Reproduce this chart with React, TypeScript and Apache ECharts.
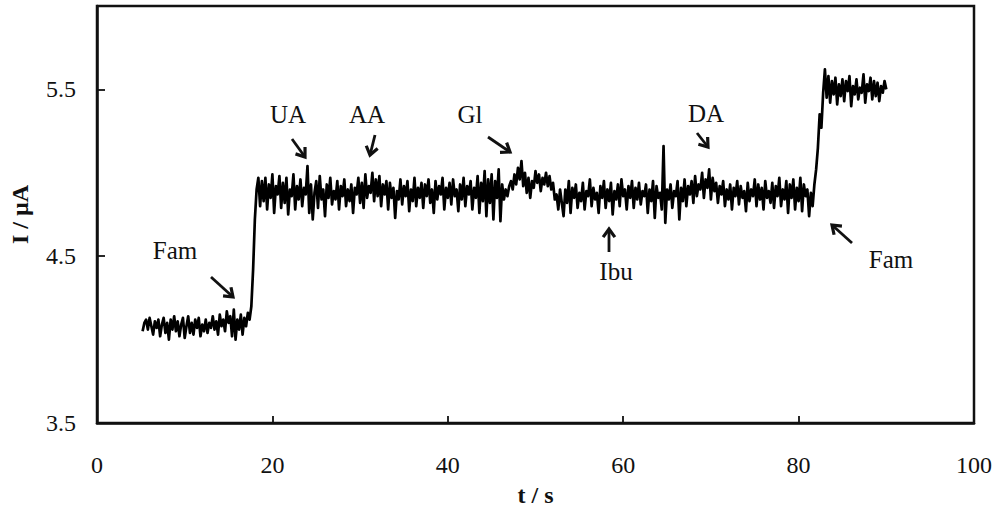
import React, { useEffect, useRef } from "react";
import * as echarts from "echarts";

// Sampling of the amperometric trace
const T0 = 5.2; // s, first sample
const DT = 0.2; // s, sampling interval

// Current (µA), one value per sample
const currentUA: number[] = [
  4.05, 4.10, 4.12, 4.06, 4.13, 4.08, 4.03, 4.11, 4.07, 4.12,
  4.02, 4.09, 4.13, 4.04, 4.10, 4.00, 4.12, 4.06, 4.14, 4.05,
  4.11, 4.02, 4.09, 4.13, 4.01, 4.08, 4.14, 4.04, 4.10, 4.03,
  4.12, 4.07, 4.13, 4.02, 4.09, 4.05, 4.12, 4.04, 4.10, 4.07,
  4.14, 4.06, 4.11, 4.03, 4.15, 4.08, 4.12, 4.05, 4.17, 4.10,
  4.14, 4.02, 4.18, 4.00, 4.12, 4.06, 4.15, 4.03, 4.13, 4.08,
  4.16, 4.12, 4.20, 4.42, 4.72, 4.90, 4.97, 4.80, 4.95, 4.83,
  4.97, 4.78, 4.93, 4.85, 4.99, 4.76, 4.92, 4.87, 4.98, 4.79,
  4.94, 4.82, 4.97, 4.75, 4.90, 4.86, 4.99, 4.78, 4.92, 4.84,
  4.96, 4.80, 4.91, 4.87, 5.04, 4.76, 4.93, 4.72, 4.88, 4.95,
  4.79, 4.98, 4.84, 4.90, 4.74, 4.93, 4.85, 4.97, 4.81, 4.89,
  4.84, 4.95, 4.78, 4.92, 4.86, 4.96, 4.80, 4.90, 4.83, 4.93,
  4.76, 4.91, 4.87, 4.97, 4.82, 4.94, 4.79, 4.99, 4.85, 4.92,
  4.88, 5.00, 4.83, 4.96, 4.86, 4.98, 4.80, 4.93, 4.87, 4.95,
  4.78, 4.94, 4.85, 4.91, 4.73, 4.89, 4.84, 4.96, 4.81, 4.92,
  4.86, 4.95, 4.77, 4.90, 4.83, 4.97, 4.80, 4.91, 4.85, 4.94,
  4.79, 4.93, 4.86, 4.96, 4.82, 4.90, 4.76, 4.95, 4.84, 4.92,
  4.87, 4.97, 4.78, 4.91, 4.85, 4.94, 4.81, 4.96, 4.86, 4.90,
  4.77, 4.93, 4.84, 4.97, 4.80, 4.92, 4.87, 4.95, 4.78, 4.91,
  4.85, 4.98, 4.76, 4.94, 4.83, 5.01, 4.74, 4.96, 4.82, 4.99,
  4.72, 4.95, 4.85, 5.02, 4.71, 4.93, 4.84, 4.90, 4.86, 4.92,
  4.95, 4.90, 4.99, 4.93, 5.03, 4.96, 5.07, 4.92, 5.00, 4.88,
  4.97, 4.85, 4.95, 4.91, 5.01, 4.94, 4.99, 4.89, 4.97, 4.93,
  5.00, 4.92, 4.98, 4.90, 4.94, 4.84, 4.87, 4.78, 4.90, 4.82,
  4.74, 4.90, 4.82, 4.95, 4.76, 4.91, 4.85, 4.93, 4.79, 4.88,
  4.83, 4.94, 4.78, 4.89, 4.86, 4.96, 4.80, 4.91, 4.84, 4.88,
  4.76, 4.92, 4.85, 4.95, 4.79, 4.90, 4.83, 4.94, 4.75, 4.89,
  4.84, 4.93, 4.80, 4.96, 4.86, 4.90, 4.78, 4.92, 4.85, 4.95,
  4.79, 4.91, 4.84, 4.94, 4.81, 4.89, 4.86, 4.93, 4.76, 4.90,
  4.83, 4.95, 4.73, 4.92, 4.85, 4.88, 4.78, 5.16, 4.70, 4.90,
  4.84, 4.93, 4.79, 4.89, 4.86, 4.95, 4.72, 4.91, 4.83, 4.96,
  4.80, 4.92, 4.87, 4.95, 4.82, 4.98, 4.86, 4.93, 4.90, 5.00,
  4.85, 4.96, 4.91, 5.02, 4.84, 4.97, 4.89, 4.94, 4.82, 4.92,
  4.87, 4.95, 4.80, 4.90, 4.84, 4.93, 4.78, 4.91, 4.86, 4.95,
  4.81, 4.92, 4.85, 4.89, 4.77, 4.94, 4.83, 4.90, 4.86, 4.96,
  4.80, 4.93, 4.84, 4.91, 4.78, 4.95, 4.85, 4.89, 4.82, 4.94,
  4.79, 4.92, 4.86, 4.97, 4.80, 4.90, 4.84, 4.95, 4.76, 4.93,
  4.85, 4.96, 4.78, 4.91, 4.83, 4.97, 4.77, 4.93, 4.86, 4.90,
  4.74, 4.88, 4.80, 4.93, 5.02, 5.15, 5.35, 5.27, 5.48, 5.62,
  5.45, 5.58, 5.42, 5.55, 5.47, 5.57, 5.41, 5.53, 5.46, 5.56,
  5.43, 5.55, 5.49, 5.58, 5.40, 5.52, 5.47, 5.56, 5.44, 5.51,
  5.48, 5.59, 5.42, 5.53, 5.49, 5.57, 5.44, 5.55, 5.46, 5.54,
  5.43, 5.52, 5.48, 5.55, 5.50,
];

// Axis settings
const X_MIN = 0, X_MAX = 100, X_STEP = 20;
const Y_MIN = 3.5, Y_MAX = 6.0, Y_STEP = 1;
const X_TITLE = "t / s";
const Y_TITLE = "I / \u00b5A";

// Annotation labels
const annotationLabels = ["Fam", "UA", "AA", "Gl", "Ibu", "DA", "Fam"];

const FONT = "'Liberation Serif', 'Times New Roman', serif";

// Layout of annotations (pixel placement): text centre, arrow tail -> arrow head
const annotationLayout = [
  { tx: 175, ty: 250, x1: 211, y1: 277, x2: 233, y2: 297 },
  { tx: 288, ty: 114, x1: 292, y1: 139, x2: 305, y2: 157 },
  { tx: 367, ty: 114, x1: 375, y1: 135, x2: 370, y2: 155 },
  { tx: 470, ty: 114, x1: 488, y1: 137, x2: 510, y2: 152 },
  { tx: 616, ty: 271, x1: 609, y1: 252, x2: 609, y2: 229 },
  { tx: 706, ty: 113, x1: 697, y1: 133, x2: 708, y2: 147 },
  { tx: 891, ty: 259, x1: 852, y1: 243, x2: 832, y2: 225 },
];

function arrowGraphics() {
  const els: any[] = [];
  annotationLabels.forEach((label, i) => {
    const a = annotationLayout[i];
    els.push({
      type: "text",
      x: a.tx,
      y: a.ty,
      style: {
        text: label,
        fill: "#111",
        font: `25px ${FONT}`,
        align: "center",
        verticalAlign: "middle",
      },
    });
    els.push({
      type: "line",
      shape: { x1: a.x1, y1: a.y1, x2: a.x2, y2: a.y2 },
      style: { stroke: "#111", lineWidth: 2.8 },
    });
    const ang = Math.atan2(a.y2 - a.y1, a.x2 - a.x1);
    const L = 10;
    const spread = Math.PI / 5;
    const p1 = [a.x2 - L * Math.cos(ang - spread), a.y2 - L * Math.sin(ang - spread)];
    const p2 = [a.x2 - L * Math.cos(ang + spread), a.y2 - L * Math.sin(ang + spread)];
    els.push({
      type: "polyline",
      shape: { points: [p1, [a.x2, a.y2], p2] },
      style: { stroke: "#111", lineWidth: 3.2, fill: null, lineJoin: "miter" },
    });
  });
  return els;
}

export default function App() {
  const ref = useRef<HTMLDivElement>(null);

  useEffect(() => {
    if (!ref.current) return;
    const chart = echarts.init(ref.current, undefined, { renderer: "svg" });
    const seriesData = currentUA.map((v, i) => [Number((T0 + i * DT).toFixed(2)), v]);
    chart.setOption({
      animation: false,
      backgroundColor: "#fff",
      textStyle: { fontFamily: FONT },
      grid: {
        left: 93,
        right: 26,
        top: 6,
        bottom: 91,
        show: true,
        borderColor: "#111",
        borderWidth: 2.5,
      },
      xAxis: {
        type: "value",
        min: X_MIN,
        max: X_MAX,
        interval: X_STEP,
        name: X_TITLE,
        nameLocation: "middle",
        nameGap: 60,
        nameTextStyle: { color: "#111", fontSize: 24, fontWeight: "bold", fontFamily: FONT },
        axisLine: { show: true, onZero: false, lineStyle: { color: "#111", width: 2.5 } },
        axisTick: { show: true, inside: true, length: 7, lineStyle: { color: "#111", width: 1.8 } },
        axisLabel: { color: "#111", fontSize: 24, fontFamily: FONT, margin: 30 },
        splitLine: { show: false },
      },
      yAxis: {
        type: "value",
        min: Y_MIN,
        max: Y_MAX,
        interval: Y_STEP,
        name: Y_TITLE,
        nameLocation: "middle",
        nameGap: 65,
        nameTextStyle: { color: "#111", fontSize: 24, fontWeight: "bold", fontFamily: FONT },
        axisLine: { show: true, onZero: false, lineStyle: { color: "#111", width: 2.5 } },
        axisTick: { show: true, inside: true, length: 8, lineStyle: { color: "#111", width: 1.8 } },
        axisLabel: {
          color: "#111",
          fontSize: 24,
          fontFamily: FONT,
          margin: 21,
          showMaxLabel: false,
          formatter: (v: number) => v.toFixed(1),
        },
        splitLine: { show: false },
      },
      series: [
        {
          type: "line",
          data: seriesData,
          showSymbol: false,
          lineStyle: { color: "#000", width: 2.7, join: "round" },
          z: 3,
        },
      ],
      graphic: arrowGraphics(),
    });
    return () => chart.dispose();
  }, []);

  return (
    <div
      ref={ref}
      style={{ position: "fixed", left: 0, top: 0, width: 1000, height: 514, background: "#fff" }}
    />
  );
}
